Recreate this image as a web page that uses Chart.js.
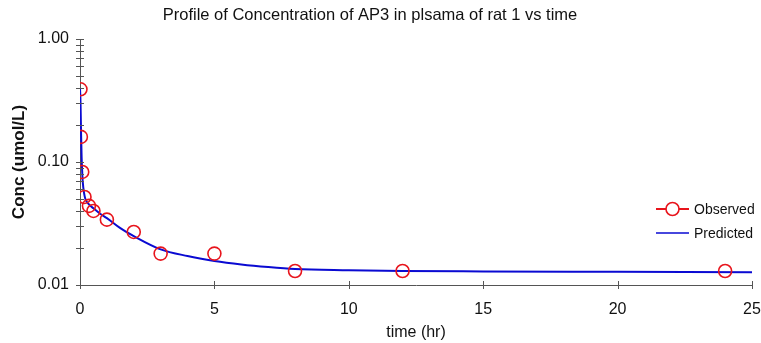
<!DOCTYPE html>
<html>
<head>
<meta charset="utf-8">
<script src="https://cdn.jsdelivr.net/npm/chart.js@4/dist/chart.umd.min.js"></script>
<style>
html,body{margin:0;padding:0;background:#fff;}
#wrap{width:761px;height:343px;position:relative;}
</style>
</head>
<body>
<div id="wrap"><canvas id="c" width="761" height="343"></canvas></div>
<script>
const chartTitle = 'Profile of Concentration of AP3 in plsama of rat 1 vs time';
const xTitle = 'time (hr)';
const yTitle = 'Conc (umol/L)';

const obsTime = [0.017, 0.033, 0.083, 0.167, 0.333, 0.5, 1, 2, 3, 5, 8, 12, 24];
const obsConc = [0.39, 0.16, 0.083, 0.052, 0.044, 0.040, 0.034, 0.027, 0.018, 0.018, 0.013, 0.013, 0.013];

const predTime = [0, 0.02, 0.04, 0.06, 0.08, 0.1, 0.15, 0.2, 0.3, 0.5, 0.75, 1, 1.5, 2, 3, 4, 5, 6, 7, 8, 10, 12, 15, 20, 25];
const predConc = [0.40, 0.30, 0.17, 0.11, 0.085, 0.07, 0.056, 0.050, 0.046, 0.042, 0.038, 0.035, 0.029, 0.025, 0.0195, 0.0172, 0.0157, 0.0147, 0.0140, 0.0135, 0.0132, 0.0130, 0.0129, 0.0128, 0.0127];

const xTicks = [0, 5, 10, 15, 20, 25];
const yMajorTicks = [0.01, 0.1, 1];
const yTickLabels = ['0.01', '0.10', '1.00'];
const yMinorTicks = [0.02, 0.03, 0.04, 0.05, 0.06, 0.07, 0.08, 0.09, 0.2, 0.3, 0.4, 0.5, 0.6, 0.7, 0.8, 0.9];

const FONT = "'Liberation Sans', Arial, Helvetica, sans-serif";
const AXIS_COLOR = '#555';

const tickCross = {
  id: 'tickCross',
  afterDatasetsDraw(chart) {
    const ctx = chart.ctx;
    const xs = chart.scales.x, ys = chart.scales.y;
    const ca = chart.chartArea;
    ctx.save();
    ctx.strokeStyle = AXIS_COLOR;
    ctx.lineWidth = 1;
    ctx.beginPath();
    ys.ticks.forEach(t => {
      const p = Math.round(ys.getPixelForValue(t.value)) + 0.5;
      ctx.moveTo(ca.left - 4, p); ctx.lineTo(ca.left + 4, p);
    });
    xs.ticks.forEach(t => {
      const p = Math.round(xs.getPixelForValue(t.value)) + 0.5;
      ctx.moveTo(p, ca.bottom - 4); ctx.lineTo(p, ca.bottom + 4);
    });
    ctx.stroke();
    ctx.restore();
  }
};

const titleAndLegend = {
  id: 'titleAndLegend',
  afterDraw(chart) {
    const ctx = chart.ctx;
    ctx.save();
    ctx.fillStyle = '#111';
    ctx.font = '16.5px ' + FONT;
    ctx.textAlign = 'center';
    ctx.textBaseline = 'middle';
    ctx.fillText(chartTitle, 370, 15);

    const ds = chart.data.datasets;
    const rows = [209, 233];
    ctx.font = '14px ' + FONT;
    ctx.textAlign = 'left';
    ds.forEach((d, i) => {
      const y = rows[i];
      ctx.strokeStyle = d.borderColor;
      ctx.lineWidth = d.legendLineWidth;
      ctx.beginPath();
      ctx.moveTo(656, y); ctx.lineTo(689, y);
      ctx.stroke();
      if (d.pointRadius > 0) {
        ctx.lineWidth = d.borderWidth;
        ctx.beginPath();
        ctx.arc(672.5, y, d.pointRadius, 0, Math.PI * 2);
        ctx.fillStyle = '#fff';
        ctx.fill();
        ctx.stroke();
      }
      ctx.fillStyle = '#111';
      ctx.fillText(d.label, 694, y + 1);
    });
    ctx.restore();
  }
};

new Chart(document.getElementById('c'), {
  type: 'line',
  data: {
    datasets: [
      {
        label: 'Observed',
        data: obsTime.map((t, i) => ({x: t, y: obsConc[i]})),
        showLine: false,
        pointStyle: 'circle',
        pointRadius: 6.5,
        borderColor: '#e8141c',
        backgroundColor: 'rgba(0,0,0,0)',
        borderWidth: 1.6,
        legendLineWidth: 2,
        order: 0
      },
      {
        label: 'Predicted',
        data: predTime.map((t, i) => ({x: t, y: predConc[i]})),
        pointRadius: 0,
        borderColor: '#0a0ad2',
        borderWidth: 2,
        legendLineWidth: 1.5,
        cubicInterpolationMode: 'monotone',
        fill: false,
        order: 1
      }
    ]
  },
  options: {
    responsive: false,
    animation: false,
    layout: {padding: {top: 39, right: 0, left: 0, bottom: 0}},
    plugins: {
      legend: {display: false},
      title: {display: false},
      tooltip: {enabled: false}
    },
    scales: {
      x: {
        type: 'linear',
        min: 0, max: 25,
        afterBuildTicks(s) { s.ticks = xTicks.map(v => ({value: v})); },
        afterFit(s) { s.height = 58; s.paddingRight = 9; s.paddingLeft = 0; },
        grid: {display: true, drawOnChartArea: false, drawTicks: false},
        border: {display: true, color: AXIS_COLOR, width: 1},
        ticks: {color: '#111', font: {family: FONT, size: 16}, padding: 15, maxRotation: 0},
        title: {display: true, text: xTitle, color: '#111', font: {family: FONT, size: 16}, padding: {top: 0, bottom: 1}}
      },
      y: {
        type: 'logarithmic',
        min: 0.01, max: 1,
        afterBuildTicks(s) {
          s.ticks = yMajorTicks.concat(yMinorTicks).sort((a, b) => a - b).map(v => ({value: v}));
        },
        afterFit(s) { s.width = 80; },
        grid: {display: true, drawOnChartArea: false, drawTicks: false},
        border: {display: true, color: AXIS_COLOR, width: 1},
        ticks: {
          color: '#111', font: {family: FONT, size: 16}, padding: 11, autoSkip: false,
          callback(v) {
            const i = yMajorTicks.findIndex(m => Math.abs(m - v) < 1e-9);
            return i >= 0 ? yTickLabels[i] : '';
          }
        },
        title: {display: true, text: yTitle, color: '#111', font: {family: FONT, size: 17, weight: 'bold'}, padding: {top: 9, bottom: 0}}
      }
    }
  },
  plugins: [tickCross, titleAndLegend]
});
</script>
</body>
</html>
